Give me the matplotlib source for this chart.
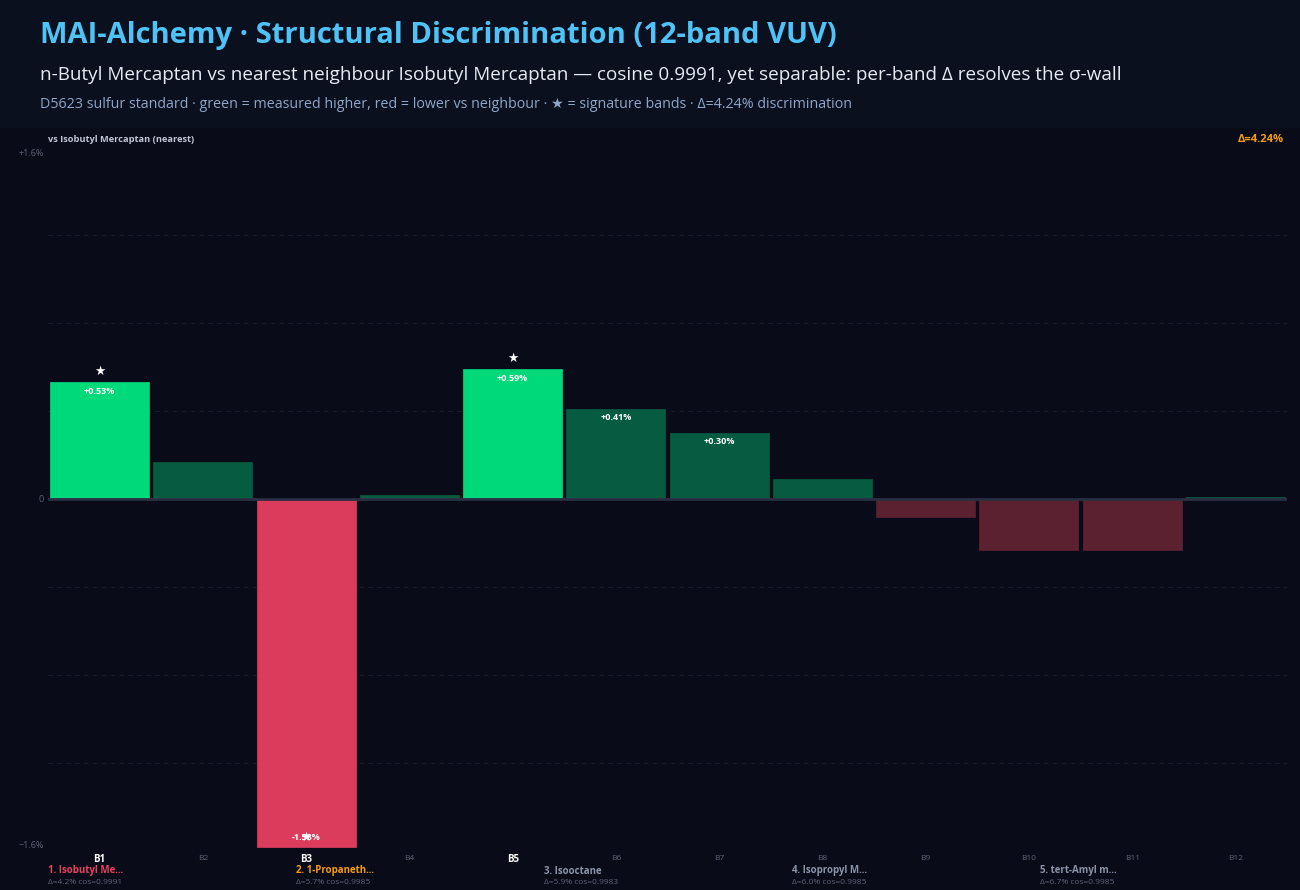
import numpy as np
import matplotlib
matplotlib.use("Agg")
import matplotlib.pyplot as plt
from matplotlib.patches import Rectangle

plt.rcParams['font.family'] = ['Open Sans', 'DejaVu Sans']

# data
bands = ["B1", "B2", "B3", "B4", "B5", "B6", "B7", "B8", "B9", "B10", "B11", "B12"]
delta = [0.53, 0.17, -1.58, 0.02, 0.59, 0.41, 0.30, 0.09, -0.08, -0.23, -0.23, 0.01]
signature = ["B1", "B3", "B5"]
neighbours = ["1. Isobutyl Me...", "2. 1-Propaneth...", "3. Isooctane",
              "4. Isopropyl M...", "5. tert-Amyl m..."]
neigh_delta = [4.2, 5.7, 5.9, 6.0, 6.7]
neigh_cos = [0.9991, 0.9985, 0.9983, 0.9985, 0.9985]
neigh_colors = ["#e8405f", "#f39c12", "#8a93a8", "#8a93a8", "#8a93a8"]

W, H = 1300, 890
BG = "#0a0b18"
HEAD = "#0a101e"

fig = plt.figure(figsize=(W / 100, H / 100), dpi=100, facecolor=BG)

def px(x, y):
    return x / W, 1 - y / H

# header band
fig.patches.append(Rectangle((0, 1 - 128 / H), 1, 128 / H, transform=fig.transFigure,
                             facecolor=HEAD, edgecolor="none", zorder=0))
fig.text(*px(40, 36), "MAI-Alchemy · Structural Discrimination (12-band VUV)",
         color="#4fc3f7", fontsize=21, fontweight="bold", va="center")
fig.text(*px(40, 75), "n-Butyl Mercaptan vs nearest neighbour Isobutyl Mercaptan — cosine 0.9991, "
         "yet separable: per-band Δ resolves the σ-wall",
         color="#e6eaf2", fontsize=13.6, va="center")
fig.text(*px(40, 104), "D5623 sulfur standard · green = measured higher, red = lower vs neighbour · "
         "★ = signature bands · Δ=4.24% discrimination",
         color="#8fa6c6", fontsize=10.3, va="center")

ax = fig.add_axes([48 / W, 1 - 851 / H, (1287 - 48) / W, (851 - 147) / H])
ax.set_facecolor(BG)
x = np.arange(len(bands))
colors = []
for b, v in zip(bands, delta):
    sig = b in signature
    if v >= 0:
        colors.append("#00d97a" if sig else "#065c40")
    else:
        colors.append("#dc3c5c" if sig else "#5c2130")
ax.bar(x, delta, width=0.96, color=colors, edgecolor=colors, linewidth=0.5, zorder=3)
ax.set_xlim(-0.5, len(bands) - 0.5)
ax.set_ylim(-1.6, 1.6)

for g in np.arange(-1.2, 1.21, 0.4):
    if abs(g) > 1e-6:
        ax.axhline(g, color="#181b2c", lw=0.8, ls=(0, (4, 4)), zorder=1)
ax.axhline(0, color="#2a2e42", lw=2, zorder=4)

for i, (b, v) in enumerate(zip(bands, delta)):
    if abs(v) >= 0.3:
        ax.text(i, v - 0.04 if v > 0 else v + 0.04, f"{v:+.2f}%", color="white",
                fontsize=6.5, fontweight="bold", ha="center", va="center", zorder=5)
    if b in signature:
        ys = v + 0.05 if v > 0 else v + 0.04
        ax.text(i, ys, "★", color="white", fontsize=9, ha="center", va="center",
                family=["DejaVu Sans"], zorder=6)

for s in ax.spines.values():
    s.set_visible(False)
ax.set_xticks([])
ax.set_yticks([])

# y labels
fig.text(*px(44, 154), "+1.6%", color="#5c6278", fontsize=6.5, ha="right", va="center")
fig.text(*px(44, 499), "0", color="#5c6278", fontsize=6.5, ha="right", va="center")
fig.text(*px(44, 845), "−1.6%", color="#5c6278", fontsize=6.5, ha="right", va="center")

# band labels
for i, b in enumerate(bands):
    xc = 48 + (i + 0.5) * (1287 - 48) / len(bands)
    if b in signature:
        fig.text(*px(xc, 859), b, color="white", fontsize=7, fontweight="bold",
                 ha="center", va="center")
    else:
        fig.text(*px(xc, 859), b, color="#5c6278", fontsize=6, ha="center", va="center")

fig.text(*px(48, 140), "vs Isobutyl Mercaptan (nearest)", color="#c0c6d4",
         fontsize=6.7, fontweight="bold", va="center")
fig.text(*px(1284, 140), "Δ=4.24%", color="#f39c12", fontsize=8,
         fontweight="bold", ha="right", va="center")

for k, (n, d, c, col) in enumerate(zip(neighbours, neigh_delta, neigh_cos, neigh_colors)):
    x0 = 48 + k * 248
    fig.text(*px(x0, 871), n, color=col, fontsize=7, fontweight="bold", va="center")
    fig.text(*px(x0, 882), f"Δ={d:.1f}% cos={c:.4f}", color="#5c6278",
             fontsize=6, va="center")

fig.savefig("out.png", dpi=100, facecolor=BG)
